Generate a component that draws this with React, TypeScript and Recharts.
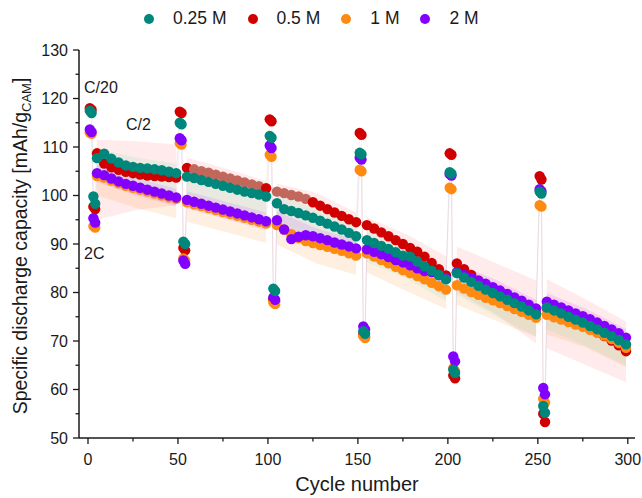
import { Area, Cell, ComposedChart, Line, Scatter, XAxis, YAxis } from 'recharts';

const FONT = '"Liberation Sans", Arial, sans-serif';
const INK = '#1a1a1a';

// cycle numbers of the plotted points: per 50-cycle block two C/20 points, two 2C points, then the C/2 run
const CYCLES = [
  1, 2, 3, 4, 5, 9, 13, 17, 21, 25, 29, 33, 37, 41, 45, 49,
  51, 52, 53, 54, 55, 59, 63, 67, 71, 75, 79, 83, 87, 91, 95, 99,
  101, 102, 103, 104, 105, 109, 113, 117, 121, 125, 129, 133, 137, 141, 145, 149,
  151, 152, 153, 154, 155, 159, 163, 167, 171, 175, 179, 183, 187, 191, 195, 199,
  201, 202, 203, 204, 205, 209, 213, 217, 221, 225, 229, 233, 237, 241, 245, 249,
  251, 252, 253, 254, 255, 259, 263, 267, 271, 275, 279, 283, 287, 291, 295, 299,
];

const CAP_025 = [
  117.5, 117.0, 99.8, 98.3, 107.7, 108.6, 107.6, 106.8, 106.2, 105.9, 105.7, 105.6, 105.4, 105.2, 104.9, 104.6,
  115.0, 114.7, 90.5, 90.0, 103.9, 103.6, 103.2, 102.8, 102.4, 102.0, 101.6, 101.2, 100.8, 100.5, 100.2, 99.8,
  112.3, 111.9, 80.8, 80.3, 98.4, 97.2, 96.8, 96.4, 95.9, 95.4, 94.8, 94.2, 93.6, 93.0, 92.3, 91.6,
  108.8, 108.5, 72.0, 71.5, 90.8, 90.2, 89.6, 89.0, 88.3, 87.6, 87.4, 86.4, 85.4, 84.5, 83.6, 82.7,
  104.8, 104.5, 64.1, 63.4, 84.0, 83.1, 82.2, 81.4, 80.6, 79.9, 79.2, 78.5, 77.8, 77.1, 76.3, 75.5,
  100.8, 100.4, 56.6, 55.2, 76.9, 76.3, 75.7, 75.0, 74.4, 73.8, 73.1, 72.4, 71.7, 71.0, 70.2, 69.3,
];

const CAP_05 = [
  118.0, 117.7, 97.7, 97.2, 108.7, 106.6, 105.8, 105.3, 104.9, 104.6, 104.3, 104.1, 104.0, 103.9, 103.8, 103.7,
  117.3, 117.0, 89.2, 88.7, 105.7, 105.4, 105.0, 104.7, 104.3, 103.9, 103.5, 103.1, 102.7, 102.3, 101.9, 101.5,
  115.7, 115.3, 78.6, 78.1, 100.8, 100.5, 100.1, 99.8, 99.3, 98.6, 97.9, 97.2, 96.5, 95.8, 95.1, 94.5,
  112.9, 112.5, 71.4, 70.9, 93.9, 93.2, 92.4, 91.6, 90.8, 90.0, 89.2, 88.4, 87.4, 86.1, 84.8, 83.5,
  108.7, 108.4, 62.9, 62.3, 86.0, 84.8, 83.6, 82.5, 81.6, 80.7, 79.9, 79.1, 78.3, 77.5, 76.6, 75.7,
  104.0, 103.3, 55.0, 53.3, 76.8, 76.1, 75.4, 74.7, 74.0, 73.3, 72.6, 71.8, 71.0, 70.1, 69.1, 67.9,
];

const CAP_1 = [
  113.0, 112.7, 93.7, 93.4, 104.0, 103.7, 103.1, 102.5, 102.0, 101.6, 101.2, 100.8, 100.4, 100.0, 99.6, 99.3,
  110.8, 110.5, 87.0, 86.6, 98.6, 98.2, 97.8, 97.4, 97.0, 96.6, 96.2, 95.8, 95.4, 95.0, 94.6, 94.2,
  108.4, 108.0, 78.0, 77.6, 93.9, 93.0, 92.0, 91.2, 90.6, 90.2, 89.8, 89.4, 89.0, 88.6, 88.1, 87.6,
  105.3, 105.0, 71.0, 70.6, 88.1, 87.4, 86.7, 86.0, 85.3, 84.6, 84.0, 83.4, 82.7, 82.0, 81.3, 80.6,
  101.6, 101.3, 64.4, 63.8, 81.5, 80.8, 80.1, 79.5, 78.9, 78.4, 77.8, 77.2, 76.6, 76.0, 75.4, 74.8,
  98.0, 97.7, 58.1, 57.3, 75.4, 74.9, 74.4, 73.9, 73.4, 72.9, 72.3, 71.7, 71.1, 70.4, 69.6, 68.6,
];

const CAP_2 = [
  113.6, 113.1, 95.3, 94.4, 104.6, 104.2, 103.5, 102.9, 102.4, 102.0, 101.6, 101.2, 100.8, 100.4, 100.0, 99.6,
  111.8, 111.4, 86.6, 85.9, 99.1, 98.7, 98.3, 97.9, 97.5, 97.1, 96.7, 96.3, 95.9, 95.5, 95.1, 94.7,
  110.3, 109.8, 79.0, 78.5, 94.9, 93.0, 91.0, 91.5, 91.8, 91.6, 91.2, 90.8, 90.3, 89.9, 89.5, 89.1,
  107.8, 107.4, 73.0, 72.4, 88.9, 88.4, 87.9, 87.3, 86.7, 86.2, 85.6, 85.0, 84.4, 84.2, 83.6, 83.0,
  104.4, 104.1, 66.8, 65.8, 84.2, 83.6, 83.0, 82.4, 81.8, 81.1, 80.4, 79.7, 79.0, 78.3, 77.5, 76.7,
  101.3, 100.9, 60.3, 59.0, 78.1, 77.5, 76.9, 76.3, 75.7, 75.1, 74.5, 73.8, 73.1, 72.4, 71.6, 70.7,
];

// spread bands (start / middle / end of every C/2 run)
const BAND_CYCLES = [5, 27, 49, 55, 77, 99, 105, 127, 149, 155, 177, 199, 205, 227, 249, 255, 277, 299];

const BAND_025 = [
  [103.2, 109.7], [101.3, 107.8], [100.1, 106.6],
  [99.4, 105.9], [97.3, 103.8], [95.3, 101.8],
  [93.9, 100.4], [90.6, 97.1], [87.1, 93.6],
  [86.3, 92.8], [82.9, 89.4], [78.2, 84.7],
  [79.5, 86.0], [75.0, 81.5], [71.0, 77.5],
  [72.4, 78.9], [68.9, 75.4], [64.9, 71.4],
];

const BAND_05 = [
  [95, 111.5], [97, 111.2], [98, 110.5],
  [99, 107.8], [97.5, 105.5], [96, 103],
  [95, 102.5], [92, 100.5], [89, 96.5],
  [87, 95.5], [84, 92], [79, 87.5],
  [80, 89.5], [75.5, 86], [69.5, 82.5],
  [68.5, 82.8], [65, 78.5], [61.5, 74],
];

const BAND_1 = [
  [100, 105.5], [97.4, 102.9], [95.3, 100.8],
  [94.6, 100.1], [92.4, 97.9], [90.2, 95.7],
  [89.9, 95.4], [86, 91.5], [83.6, 89.1],
  [84.1, 89.6], [80.3, 85.8], [76.6, 82.1],
  [77.5, 83], [74.1, 79.6], [70.8, 76.3],
  [71.4, 76.9], [68.6, 74.1], [64.6, 70.1],
];

const BAND_2 = [
  [102.8, 106.4], [100, 103.6], [97.8, 101.4],
  [97.3, 100.9], [95.1, 98.7], [92.9, 96.5],
  [93.1, 96.7], [89.6, 93.2], [87.3, 90.9],
  [87.1, 90.7], [84.1, 87.7], [81.2, 84.8],
  [82.4, 86], [79, 82.6], [74.9, 78.5],
  [76.3, 79.9], [73, 76.6], [68.9, 72.5],
];

const X_TICKS = [0, 25, 50, 75, 100, 125, 150, 175, 200, 225, 250, 275, 300];
const Y_TICKS = [50, 55, 60, 65, 70, 75, 80, 85, 90, 95, 100, 105, 110, 115, 120, 125, 130];

const SERIES = [
  { key: 'b05', name: '0.5 M', color: '#d10000', band: '#ff5a5a', bandOpacity: 0.12, values: CAP_05 },
  { key: 'b1', name: '1 M', color: '#ff8a12', band: '#ff9a40', bandOpacity: 0.16, values: CAP_1 },
  { key: 'b2', name: '2 M', color: '#8300ff', band: '#e070ff', bandOpacity: 0.22, values: CAP_2 },
  { key: 'b025', name: '0.25 M', color: '#00877c', band: '#60e0b0', bandOpacity: 0.14, values: CAP_025 },
];
const LEGEND_ORDER = ['0.25 M', '0.5 M', '1 M', '2 M'];

// band rows, with a null row between runs so each run gets its own patch
const bandRows: Record<string, unknown>[] = [];
BAND_CYCLES.forEach((c, i) => {
  bandRows.push({ c, b025: BAND_025[i], b05: BAND_05[i], b1: BAND_1[i], b2: BAND_2[i] });
  if (i % 3 === 2 && i < BAND_CYCLES.length - 1) {
    bandRows.push({ c: c + 3, b025: null, b05: null, b1: null, b2: null });
  }
});

function points(values: number[]) {
  return CYCLES.map((c, i) => ({ c, v: values[i] }));
}

// the 0.5 M run after 50 and 100 cycles looks brownish under the other bands
function redShade(c: number): string {
  if ((c >= 59 && c <= 95) || (c >= 105 && c <= 121)) return '#c2675b';
  return '#d10000';
}

function XTick({ x, y, payload }: any) {
  const major = payload.value % 50 === 0;
  return (
    <g>
      <line x1={x} x2={x} y1={y} y2={y + (major ? 6 : 3.5)} stroke={INK} strokeWidth={1.3} />
      {major && (
        <text x={x} y={y + 27} textAnchor="middle" fontSize={16} fontFamily={FONT} fill={INK}>
          {payload.value}
        </text>
      )}
    </g>
  );
}

function YTick({ x, y, payload }: any) {
  const major = payload.value % 10 === 0;
  return (
    <g>
      <line x1={x - (major ? 6 : 3.5)} x2={x} y1={y} y2={y} stroke={INK} strokeWidth={1.3} />
      {major && (
        <text x={x - 11} y={y + 5.5} textAnchor="end" fontSize={16} fontFamily={FONT} fill={INK}>
          {payload.value}
        </text>
      )}
    </g>
  );
}

const dot = (p: any) => <circle cx={p.cx} cy={p.cy} r={5.2} fill={p.fill} />;

export default function App() {
  const text = { position: 'absolute' as const, fontFamily: FONT, color: INK, whiteSpace: 'nowrap' as const, lineHeight: 1 };
  return (
    <div style={{ position: 'absolute', left: 0, top: 0, width: 642, height: 498, background: '#fff' }}>
      <ComposedChart width={642} height={498} data={bandRows} margin={{ top: 50, right: 7, bottom: 0, left: 0 }}>
        <XAxis
          type="number"
          dataKey="c"
          domain={[-5, 304]}
          ticks={X_TICKS}
          allowDataOverflow
          height={60}
          tickSize={0}
          tickMargin={0}
          tickLine={false}
          tick={<XTick />}
          axisLine={{ stroke: INK, strokeWidth: 1.5 }}
          interval={0}
        />
        <YAxis
          type="number"
          dataKey="v"
          domain={[50, 130]}
          ticks={Y_TICKS}
          allowDataOverflow
          width={79}
          tickSize={0}
          tickMargin={0}
          tickLine={false}
          tick={<YTick />}
          axisLine={{ stroke: INK, strokeWidth: 1.5 }}
          interval={0}
        />
        {SERIES.map((s) => (
          <Area
            key={`band-${s.key}`}
            type="linear"
            dataKey={s.key}
            stroke="none"
            fill={s.band}
            fillOpacity={s.bandOpacity}
            connectNulls={false}
            dot={false}
            activeDot={false}
            isAnimationActive={false}
          />
        ))}
        {SERIES.map((s) => (
          <Line
            key={`line-${s.key}`}
            data={points(s.values)}
            dataKey="v"
            type="linear"
            stroke={s.color}
            strokeOpacity={0.06}
            strokeWidth={1}
            dot={false}
            activeDot={false}
            isAnimationActive={false}
          />
        ))}
        {SERIES.map((s) => (
          <Scatter
            key={`pts-${s.key}`}
            name={s.name}
            data={points(s.values)}
            dataKey="v"
            fill={s.color}
            shape={dot}
            isAnimationActive={false}
          >
            {s.key === 'b05' && CYCLES.map((c) => <Cell key={c} fill={redShade(c)} />)}
          </Scatter>
        ))}
      </ComposedChart>

      <div style={{ position: 'absolute', left: 144, top: 8, display: 'flex', alignItems: 'center' }}>
        {LEGEND_ORDER.map((name) => {
          const s = SERIES.find((d) => d.name === name)!;
          return (
            <span key={name} style={{ display: 'flex', alignItems: 'center', marginRight: 21 }}>
              <span style={{ width: 10, height: 10, borderRadius: '50%', background: s.color, marginRight: 19 }} />
              <span style={{ fontFamily: FONT, fontSize: 17.5, color: INK }}>{name}</span>
            </span>
          );
        })}
      </div>

      <div style={{ ...text, left: 22, top: 246, fontSize: 19.5, transform: 'translate(-50%, -50%) rotate(-90deg)' }}>
        Specific discharge capacity [mAh/g<sub style={{ fontSize: 13 }}>CAM</sub>]
      </div>
      <div style={{ ...text, left: 357, top: 484, fontSize: 20, transform: 'translate(-50%, -50%)' }}>Cycle number</div>

      <div style={{ ...text, left: 84, top: 80, fontSize: 16 }}>C/20</div>
      <div style={{ ...text, left: 126, top: 117, fontSize: 16 }}>C/2</div>
      <div style={{ ...text, left: 84, top: 246, fontSize: 16 }}>2C</div>
    </div>
  );
}
